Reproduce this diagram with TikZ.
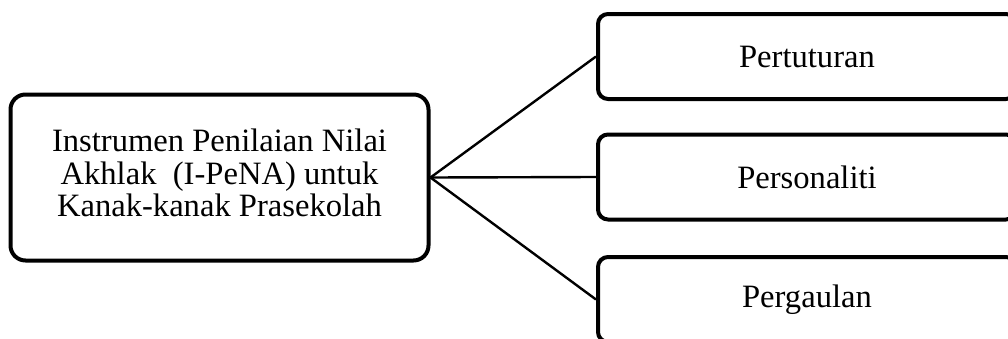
\documentclass[tikz,border=0pt]{standalone}
\usepackage{fontspec}
\setmainfont{Liberation Serif}
\usepackage{tikz}
\usetikzlibrary{
  positioning,
  calc
}
\tikzstyle{mainbox}=[draw, line width=2pt, rounded corners=7.5pt, minimum width=209pt, minimum height=83pt, align=center, inner sep=0pt]
\tikzstyle{subbox}=[draw, line width=2pt, rounded corners=5pt, minimum width=209pt, minimum height=42.5pt, inner sep=0pt]
\tikzstyle{link}=[line width=1.2pt]

\begin{document}
\begin{tikzpicture}[font=\fontsize{16.3pt}{16.3pt}\selectfont]
      % 図の範囲
      \useasboundingbox (0,0) rectangle (504pt,-169pt);
      \clip (0,0) rectangle (504pt,-169pt);

      % 左の箱
      \node[mainbox] (ipena) at (109.75pt,-88.75pt)
        {\raisebox{-1.5pt}{\begin{tabular}{@{}c@{}}Instrumen Penilaian Nilai\\Akhlak\ \ (I-PeNA) untuk\\Kanak-kanak Prasekolah\end{tabular}}};

      % 右の箱
      \node[subbox] (tutur) at (403.5pt,-28.25pt) {Pertuturan};
      \node[subbox] (pribadi) at (403.5pt,-88.5pt) {Personaliti};
      \node[subbox] (gaul) at (403.5pt,-149.75pt) {Pergaulan};

      % 線
      \draw[link] (ipena.east) -- (tutur.west);
      \draw[link] (ipena.east) -- (pribadi.west);
      \draw[link] (ipena.east) -- (gaul.west);
    \end{tikzpicture}
\end{document}
